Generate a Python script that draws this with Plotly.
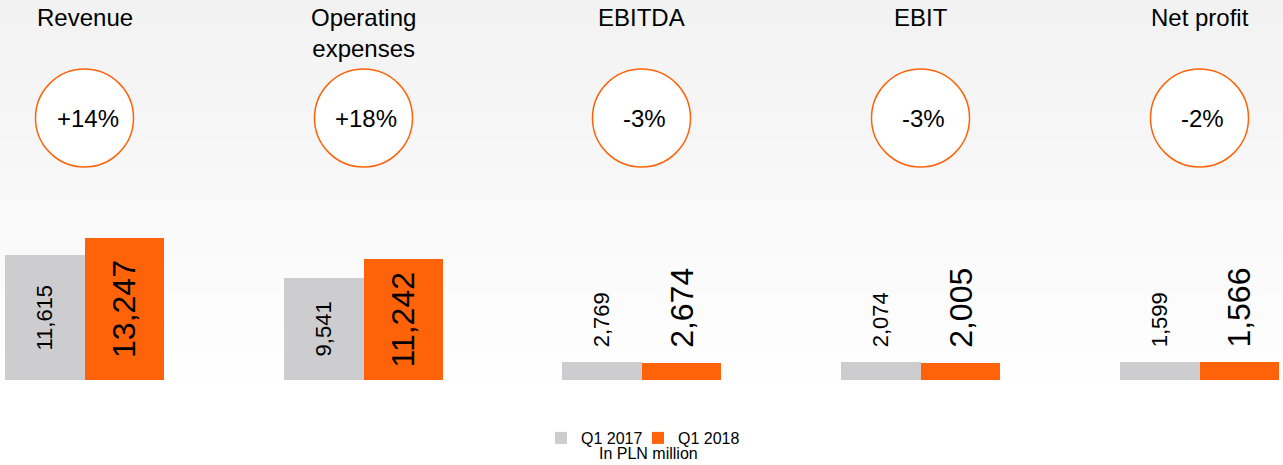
import plotly.graph_objects as go

# ---- data ----
categories = ["Revenue", "Operating expenses", "EBITDA", "EBIT", "Net profit"]
title_labels = ["Revenue", "Operating<br>expenses", "EBITDA", "EBIT", "Net profit"]
q1_2017 = [11615, 9541, 2769, 2074, 1599]
q1_2018 = [13247, 11242, 2674, 2005, 1566]
changes = ["+14%", "+18%", "-3%", "-3%", "-2%"]
series_names = ["Q1 2017", "Q1 2018"]
unit_label = "In PLN million"

# ---- layout constants ----
W, H = 1283, 465
GREY = "#cdcdcf"
ORANGE = "#ff6309"
FONT = "Liberation Sans, Arial, sans-serif"
group_left_px = [5, 284, 562, 841, 1120]
group_w_px = 159
y_bottom_px, y_top_px = 380, 200
axis_top = [16790, 16790, 27690, 20740, 15990]
inside_label = [True, True, False, False, False]
circle_cy_px, circle_r_px = 118, 49


def px_x(p):
    return p / W


def px_y(p):
    return (H - p) / H


fig = go.Figure()
layout_axes = {}
annotations = []
shapes = []

# background gradient (light grey at top fading to white)
N = 46
for k in range(N):
    y0 = k * H / N
    y1 = (k + 1) * H / N
    ym = (y0 + y1) / 2
    v = int(round(242 + 13 * min(1.0, ym / 400)))
    shapes.append(dict(type="rect", xref="paper", yref="paper", x0=0, x1=1,
                       y0=px_y(y1), y1=px_y(y0) + 0.001, line=dict(width=0),
                       fillcolor=f"rgb({v},{v},{v})", layer="below"))

for i, cat in enumerate(categories):
    xa = "x" if i == 0 else f"x{i + 1}"
    ya = "y" if i == 0 else f"y{i + 1}"
    for s, (vals, color, fsize) in enumerate([(q1_2017, GREY, 22), (q1_2018, ORANGE, 32)]):
        kw = {}
        if inside_label[i]:
            kw = dict(texttemplate="%{y:,}", textposition="inside", textangle=-90,
                      insidetextanchor="middle",
                      insidetextfont=dict(size=fsize, color="black", family=FONT),
                      textfont=dict(size=fsize, color="black", family=FONT),
                      constraintext="none")
        if s == 0:
            kw["legendwidth"] = 52
        fig.add_trace(go.Bar(
            x=[cat], y=[vals[i]], name=series_names[s], marker_color=color,
            marker_line_width=0, showlegend=(i == 0), legendgroup=series_names[s],
            xaxis=xa, yaxis=ya, hoverinfo="skip", **kw))
        if not inside_label[i]:
            annotations.append(dict(
                x=cat, y=vals[i], xref=xa, yref=ya, text=f"{vals[i]:,}",
                textangle=-90, showarrow=False, yanchor="bottom",
                xshift=(-1 if s == 0 else 1) * group_w_px / 4, yshift=13,
                font=dict(size=fsize, color="black", family=FONT)))

    x0 = group_left_px[i]
    layout_axes["xaxis" if i == 0 else f"xaxis{i + 1}"] = dict(
        domain=[px_x(x0), px_x(x0 + group_w_px)], visible=False, anchor=ya,
        fixedrange=True)
    layout_axes["yaxis" if i == 0 else f"yaxis{i + 1}"] = dict(
        domain=[px_y(y_bottom_px), px_y(y_top_px)], range=[0, axis_top[i]],
        visible=False, anchor=xa, fixedrange=True)

    cx = x0 + group_w_px / 2
    # title
    annotations.append(dict(x=px_x(cx), y=px_y(2), xref="paper", yref="paper",
                            text=title_labels[i], showarrow=False, yanchor="top",
                            xanchor="center",
                            font=dict(size=24, color="black", family=FONT)))
    # change circle
    shapes.append(dict(type="circle", xref="paper", yref="paper",
                       x0=px_x(cx - circle_r_px), x1=px_x(cx + circle_r_px),
                       y0=px_y(circle_cy_px + circle_r_px), y1=px_y(circle_cy_px - circle_r_px),
                       line=dict(color=ORANGE, width=1.5), fillcolor="white"))
    annotations.append(dict(x=px_x(cx), y=px_y(circle_cy_px + 1), xref="paper", yref="paper",
                            text=changes[i], showarrow=False, yanchor="middle",
                            xanchor="center", xshift=3,
                            font=dict(size=24, color="black", family=FONT)))

annotations.append(dict(x=px_x(648), y=px_y(453), xref="paper", yref="paper",
                        text=unit_label, showarrow=False, yanchor="middle",
                        xanchor="center", font=dict(size=16, color="black", family=FONT)))

fig.update_layout(
    width=W, height=H,
    margin=dict(l=0, r=0, t=0, b=0),
    paper_bgcolor="white", plot_bgcolor="rgba(0,0,0,0)",
    barmode="group", bargap=0, bargroupgap=0,
    font=dict(family=FONT, color="black"),
    showlegend=True,
    legend=dict(orientation="h", x=px_x(643), xanchor="center", y=px_y(438),
                yanchor="middle", font=dict(size=16, color="black", family=FONT),
                bgcolor="rgba(0,0,0,0)", itemclick=False, itemdoubleclick=False),
    annotations=annotations, shapes=shapes,
    **layout_axes,
)

fig.write_html("out.html",
               config={"displayModeBar": False, "staticPlot": True},
               post_script="document.body.style.margin='0';document.body.style.overflow='hidden';")
